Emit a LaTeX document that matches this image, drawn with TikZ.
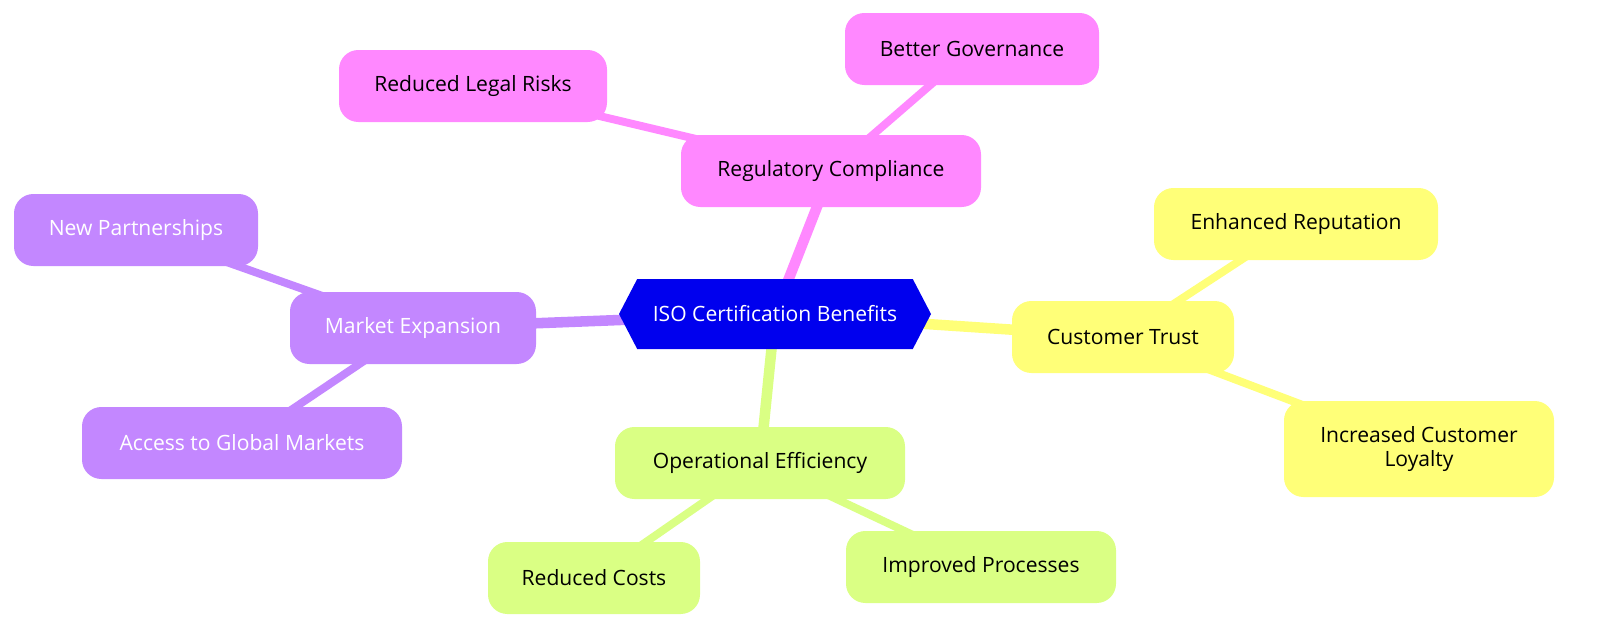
\documentclass[tikz,border=0pt]{standalone}
\usepackage{fontspec}
\setmainfont{Open Sans}
\usetikzlibrary{shapes.symbols,backgrounds}
\definecolor{rootblue}{HTML}{0000EE}
\definecolor{pinkc}{HTML}{FF88FF}
\definecolor{purplec}{HTML}{C387FF}
\definecolor{yellowc}{HTML}{FFFF78}
\definecolor{greenc}{HTML}{DAFF84}
\begin{document}
\begin{tikzpicture}[
  box/.style={rounded corners=11pt, inner sep=0pt, minimum height=1.44cm, font=\fontsize{12}{14}\selectfont, align=center},
  pinkbox/.style={box, fill=pinkc},
  purplebox/.style={box, fill=purplec, text=white},
  yellowbox/.style={box, fill=yellowc},
  greenbox/.style={box, fill=greenc},
  mainedge/.style={line width=6pt},
  leafedge/.style={line width=4.5pt}]
\node[signal, signal to=east and west, signal pointer angle=125, fill=rootblue, text=white,
  inner sep=0pt, minimum width=6.24cm, minimum height=1.4cm, font=\fontsize{12}{14}\selectfont]
  at (15.5,-6.28) (root) {ISO Certification Benefits};

\node[pinkbox, minimum width=6cm] at (16.62,-3.42) (comp) {Regulatory Compliance};
\node[pinkbox, minimum width=5.36cm] at (9.46,-1.72) (legal) {Reduced Legal Risks};
\node[pinkbox, minimum width=5.08cm] at (19.44,-0.98) (gov) {Better Governance};

\node[purplebox, minimum width=4.92cm] at (8.26,-6.56) (market) {Market Expansion};
\node[purplebox, minimum width=4.88cm] at (2.72,-4.6) (partner) {New Partnerships};
\node[purplebox, minimum width=6.4cm] at (4.84,-8.86) (global) {Access to Global Markets};

\node[yellowbox, minimum width=4.44cm] at (22.46,-6.74) (trust) {Customer Trust};
\node[yellowbox, minimum width=5.68cm] at (25.92,-4.48) (rep) {Enhanced Reputation};
\node[yellowbox, minimum width=5.4cm, minimum height=1.92cm] at (28.38,-8.98) (loyal) {Increased Customer\\Loyalty};

\node[greenbox, minimum width=5.8cm] at (15.2,-9.26) (eff) {Operational Efficiency};
\node[greenbox, minimum width=4.24cm] at (11.88,-11.56) (costs) {Reduced Costs};
\node[greenbox, minimum width=5.4cm] at (19.62,-11.34) (proc) {Improved Processes};

\begin{scope}[on background layer]
\draw[mainedge, pinkc] (root.center) -- (comp.center);
\draw[leafedge, pinkc] (comp.center) -- (legal.center);
\draw[leafedge, pinkc] (comp.center) -- (gov.center);
\draw[mainedge, purplec] (root.center) -- (market.center);
\draw[leafedge, purplec] (market.center) -- (partner.center);
\draw[leafedge, purplec] (market.center) -- (global.center);
\draw[mainedge, yellowc] (root.center) -- (trust.center);
\draw[leafedge, yellowc] (trust.center) -- (rep.center);
\draw[leafedge, yellowc] (trust.center) -- (loyal.center);
\draw[mainedge, greenc] (root.center) -- (eff.center);
\draw[leafedge, greenc] (eff.center) -- (costs.center);
\draw[leafedge, greenc] (eff.center) -- (proc.center);
\end{scope}
\pgfresetboundingbox
\useasboundingbox (0,0) rectangle (32,-12.84);
\end{tikzpicture}
\end{document}
